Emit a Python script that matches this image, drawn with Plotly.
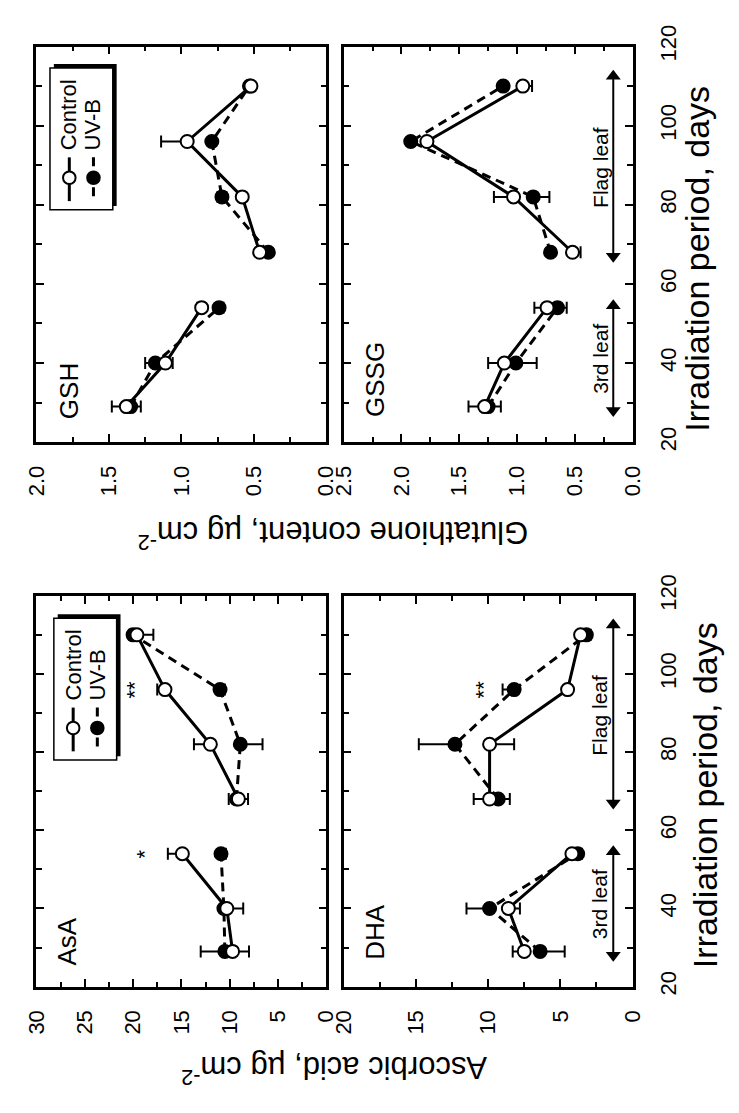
import plotly.graph_objects as go

W, H = 739, 1113
OFF = 8  # page body margin in the browser
FONT = "Liberation Sans, Arial, Helvetica, sans-serif"

# ---------------- data ----------------
days = [29, 40, 54, 68, 82, 96, 110]
segments = [(0, 3), (3, 7)]          # 3rd leaf, flag leaf

gsh_control = [1.38, 1.11, 0.86, 0.46, 0.58, 0.96, 0.52]
gsh_control_hi = [0.10, 0.00, 0.03, 0.00, 0.00, 0.18, 0.00]
gsh_control_lo = [0.10, 0.05, 0.00, 0.00, 0.00, 0.00, 0.00]
gsh_uvb = [1.35, 1.18, 0.74, 0.40, 0.72, 0.79, 0.53]
gsh_uvb_hi = [0.00, 0.07, 0.00, 0.00, 0.03, 0.00, 0.00]
gsh_uvb_lo = [0.00, 0.00, 0.03, 0.00, 0.03, 0.00, 0.00]

gssg_control = [1.28, 1.11, 0.74, 0.52, 1.03, 1.78, 0.95]
gssg_control_hi = [0.14, 0.14, 0.11, 0.00, 0.17, 0.00, 0.00]
gssg_control_lo = [0.14, 0.00, 0.00, 0.07, 0.00, 0.00, 0.08]
gssg_uvb = [1.25, 1.01, 0.65, 0.71, 0.86, 1.92, 1.12]
gssg_uvb_hi = [0.00, 0.00, 0.00, 0.00, 0.00, 0.00, 0.00]
gssg_uvb_lo = [0.00, 0.18, 0.08, 0.00, 0.14, 0.00, 0.00]

asa_control = [9.7, 10.3, 14.9, 9.1, 12.0, 16.7, 19.6]
asa_control_hi = [0.0, 0.0, 1.5, 1.0, 1.7, 0.8, 0.0]
asa_control_lo = [1.7, 1.7, 0.0, 1.0, 0.0, 0.0, 1.7]
asa_uvb = [10.5, 10.6, 10.9, 9.3, 8.9, 11.0, 20.0]
asa_uvb_hi = [2.5, 0.0, 0.0, 0.0, 0.0, 0.0, 0.4]
asa_uvb_lo = [0.0, 0.0, 0.5, 0.0, 2.3, 0.5, 0.0]

dha_control = [7.5, 8.6, 4.2, 9.9, 9.9, 4.5, 3.6]
dha_control_hi = [0.8, 0.0, 0.0, 1.1, 0.0, 0.0, 0.0]
dha_control_lo = [0.0, 0.8, 0.3, 0.0, 1.7, 0.0, 0.5]
dha_uvb = [6.4, 9.9, 3.8, 9.3, 12.3, 8.2, 3.2]
dha_uvb_hi = [0.0, 1.6, 0.0, 0.0, 2.5, 0.8, 0.0]
dha_uvb_lo = [1.7, 0.0, 0.3, 0.8, 0.0, 0.0, 0.3]

panel_names = ["GSH", "GSSG", "AsA", "DHA"]
value_ranges = [(2.0, 0.0), (2.5, 0.0), (30, 0), (20, 0)]
value_dticks = [0.5, 0.5, 5, 5]
value_minor = [0.25, 0.25, 2.5, 2.5]
value_formats = [".1f", ".1f", "d", "d"]
day_range = (20, 120)

leaf_labels = ["3rd leaf", "Flag leaf"]
leaf_start = [28, 67]
leaf_end = [54.5, 112.5]
leaf_text_day = [41, 89.5]

signif_panel = ["AsA", "AsA", "DHA"]
signif_day = [54, 96, 96]
signif_value = [18.8, 19.8, 10.3]
signif_text = ["*", "**", "**"]

series_names = ["Control", "UV-B"]
y_titles = ["Glutathione content, µg cm<sup>-2</sup>", "Ascorbic acid, µg cm<sup>-2</sup>"]
x_title = "Irradiation period, days"

# ---------------- helpers (window pixel -> paper) ----------------
def PX(x):
    return (x - OFF) / W

def PY(y):
    return 1 - (y - OFF) / H

panels = [
    dict(ctrl=(gsh_control, gsh_control_hi, gsh_control_lo),
         uvb=(gsh_uvb, gsh_uvb_hi, gsh_uvb_lo), xd=(24, 324), yd=(25, 432)),
    dict(ctrl=(gssg_control, gssg_control_hi, gssg_control_lo),
         uvb=(gssg_uvb, gssg_uvb_hi, gssg_uvb_lo), xd=(342, 641), yd=(25, 432)),
    dict(ctrl=(asa_control, asa_control_hi, asa_control_lo),
         uvb=(asa_uvb, asa_uvb_hi, asa_uvb_lo), xd=(24, 324), yd=(590, 992)),
    dict(ctrl=(dha_control, dha_control_hi, dha_control_lo),
         uvb=(dha_uvb, dha_uvb_hi, dha_uvb_lo), xd=(342, 641), yd=(590, 992)),
]

fig = go.Figure()
DASH = "9px,6px"

for i, p in enumerate(panels):
    sfx = "" if i == 0 else str(i + 1)
    xa, ya = "x" + sfx, "y" + sfx
    for key, dash, fill in [("uvb", DASH, "black"), ("ctrl", "solid", "white")]:
        vals, hi, lo = p[key]
        for a, b in segments:
            fig.add_trace(go.Scatter(
                x=vals[a:b], y=days[a:b], xaxis=xa, yaxis=ya,
                mode="lines+markers", showlegend=False,
                name=series_names[0] if key == "ctrl" else series_names[1],
                line=dict(color="black", width=3, dash=dash),
                marker=dict(size=13, color=fill, line=dict(color="black", width=2)),
                error_x=dict(type="data", symmetric=False, array=hi[a:b], arrayminus=lo[a:b],
                             color="black", thickness=2, width=6),
            ))

# leaf-period double arrows (GSSG and DHA panels)
for i in (1, 3):
    sfx = str(i + 1)
    x0, x1 = panels[i]["xd"]
    v0, v1 = value_ranges[i]
    val = v0 + (621 - x0) / (x1 - x0) * (v1 - v0)
    for s, e in zip(leaf_start, leaf_end):
        fig.add_trace(go.Scatter(
            x=[val, val], y=[s, e], xaxis="x" + sfx, yaxis="y" + sfx,
            mode="lines+markers", showlegend=False, hoverinfo="skip",
            line=dict(color="black", width=2),
            marker=dict(symbol=["triangle-down", "triangle-up"], size=13, color="black"),
        ))

axis_common = dict(
    showline=True, linewidth=2.5, linecolor="black", mirror="ticks",
    ticks="inside", ticklen=8, tickwidth=2, tickcolor="black",
    showgrid=False, zeroline=False,
    tickfont=dict(family=FONT, size=22, color="black"),
    tickangle=-90,
)

layout_axes = {}
for i, p in enumerate(panels):
    sfx = "" if i == 0 else str(i + 1)
    layout_axes["xaxis" + sfx] = dict(
        axis_common,
        domain=[PX(p["xd"][0]), PX(p["xd"][1])],
        anchor="y" + sfx,
        range=list(value_ranges[i]),
        tickmode="linear", tick0=0, dtick=value_dticks[i],
        tickformat=value_formats[i],
        minor=dict(dtick=value_minor[i], tick0=0, ticks="inside", ticklen=5,
                   tickwidth=2, tickcolor="black", showgrid=False),
        ticklabelstandoff=12,
    )
    right = i in (1, 3)
    layout_axes["yaxis" + sfx] = dict(
        axis_common,
        domain=[PY(p["yd"][1]), PY(p["yd"][0])],
        anchor="x" + sfx,
        range=list(day_range),
        tickmode="linear", tick0=20, dtick=20,
        minor=dict(dtick=10, tick0=20, ticks="inside", ticklen=6,
                   tickwidth=2, tickcolor="black", showgrid=False),
        side="right" if right else "left",
        showticklabels=right,
        ticklabelstandoff=14,
    )

annotations = []
shapes = []

def txt(text, x, y, size, angle=-90, xanchor="center", yanchor="middle", xref="paper", yref="paper"):
    annotations.append(dict(text=text, x=x, y=y, xref=xref, yref=yref, showarrow=False,
                            textangle=angle, xanchor=xanchor, yanchor=yanchor,
                            font=dict(family=FONT, size=size, color="black")))

# axis titles
txt(x_title, PX(708), PY(243), 34)
txt(x_title, PX(716), PY(795), 34)
txt(y_titles[0], PX(331), PY(528), 31, angle=180)
txt(y_titles[1], PX(332), PY(1078), 31, angle=180)

# panel labels
label_pos = [(57, 410), (375, 408), (56, 972), (375, 967)]
for name, (lx, ly) in zip(panel_names, label_pos):
    txt(name, PX(lx), PY(ly), 26, yanchor="bottom")

# leaf labels
for i in (1, 3):
    sfx = str(i + 1)
    for lab, td in zip(leaf_labels, leaf_text_day):
        txt(lab, PX(607), td, 21, yref="y" + sfx)

# significance marks
for pn, d, v, t in zip(signif_panel, signif_day, signif_value, signif_text):
    i = panel_names.index(pn)
    sfx = "" if i == 0 else str(i + 1)
    txt(t, v, d, 22, xref="x" + sfx, yref="y" + sfx)

# custom rotated legends
def legend(x0, y0, w=65, h=146):
    shapes.append(dict(type="rect", xref="paper", yref="paper",
                       x0=PX(x0 + 4), x1=PX(x0 + w + 4), y0=PY(y0 - 4), y1=PY(y0 + h - 4),
                       fillcolor="black", line=dict(width=0)))
    shapes.append(dict(type="rect", xref="paper", yref="paper",
                       x0=PX(x0), x1=PX(x0 + w), y0=PY(y0), y1=PY(y0 + h),
                       fillcolor="white", line=dict(color="black", width=1.5)))
    for k, (cx, dash, fill) in enumerate([(x0 + 20, "solid", "white"), (x0 + 45, DASH, "black")]):
        shapes.append(dict(type="line", xref="paper", yref="paper",
                           x0=PX(cx), x1=PX(cx), y0=PY(y0 + 92), y1=PY(y0 + 137),
                           line=dict(color="black", width=3, dash=dash)))
        shapes.append(dict(type="circle", xref="paper", yref="paper",
                           x0=PX(cx - 6.5), x1=PX(cx + 6.5), y0=PY(y0 + 113 - 6.5), y1=PY(y0 + 113 + 6.5),
                           fillcolor=fill, line=dict(color="black", width=2)))
        txt(series_names[k], PX(cx), PY(y0 + 87), 22, yanchor="bottom")

legend(38, 47)
legend(42, 613)

fig.update_layout(
    width=W, height=H,
    margin=dict(l=0, r=0, t=0, b=0),
    paper_bgcolor="white", plot_bgcolor="white",
    showlegend=False,
    annotations=annotations, shapes=shapes,
    font=dict(family=FONT, color="black"),
    **layout_axes,
)

fig.write_html("out.html")
